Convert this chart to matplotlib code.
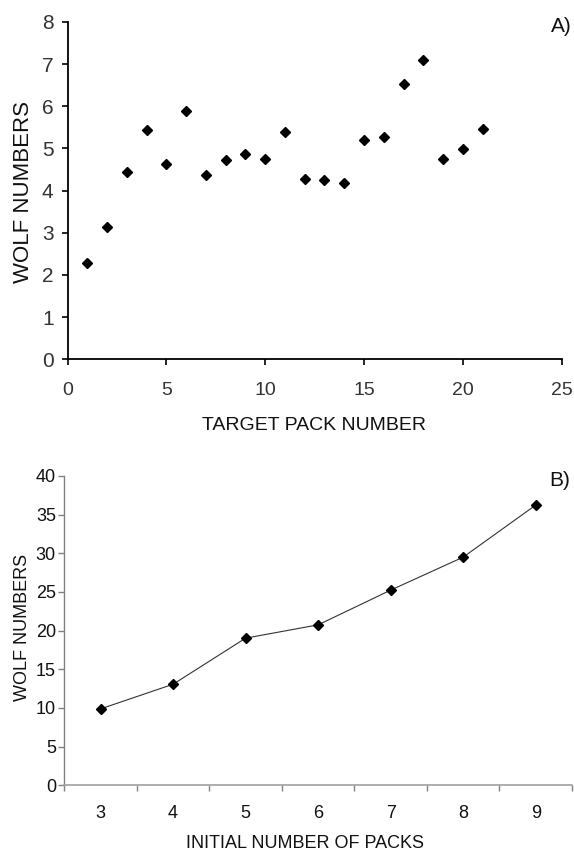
import numpy as np
import matplotlib
matplotlib.use("Agg")
import matplotlib.pyplot as plt

plt.rcParams['font.family'] = ['Liberation Sans', 'DejaVu Sans']

# panel A: wolf numbers per target pack
pack_no = list(range(1, 22))
wolves_a = [2.29, 3.13, 4.45, 5.43, 4.64, 5.88, 4.38, 4.73, 4.88, 4.76, 5.40,
            4.28, 4.26, 4.18, 5.20, 5.28, 6.53, 7.09, 4.75, 4.98, 5.46]

# panel B: wolf numbers vs initial number of packs
init_packs = [3, 4, 5, 6, 7, 8, 9]
wolves_b = [9.88, 13.07, 19.03, 20.75, 25.24, 29.51, 36.24]

W, H = 574, 851
fig = plt.figure(figsize=(W / 100, H / 100), dpi=100)

# ---- top panel
ax1 = fig.add_axes([67.5 / W, 1 - 359.3 / H, 494.2 / W, 337.3 / H])
ax1.plot(pack_no, wolves_a, linestyle='none', marker='D', markersize=5,
         color='black')
ax1.set_xlim(0, 25)
ax1.set_ylim(0, 8)
ax1.set_xticks(np.arange(0, 26, 5))
ax1.set_yticks(np.arange(0, 9, 1))
for s in ['top', 'right']:
    ax1.spines[s].set_visible(False)
for s in ['left', 'bottom']:
    ax1.spines[s].set_linewidth(1.3)
ax1.tick_params(axis='y', direction='out', length=4, width=1.2, pad=6,
                labelsize=15, labelcolor='#333333')
ax1.tick_params(axis='x', direction='out', length=4, width=1.2, pad=12,
                labelsize=14, labelcolor='#333333')
ax1.set_xlabel('TARGET PACK NUMBER', fontsize=14, color='#111111')
ax1.set_ylabel('WOLF NUMBERS', fontsize=16, color='#111111')
ax1.xaxis.set_label_coords(0.499, -0.195)
ax1.xaxis.label.set_va('center')
ax1.yaxis.set_label_coords(-0.090, 0.496)
ax1.yaxis.label.set_va('center')
ax1.text(561.7 / W, 1 - 27 / H, 'A)', transform=fig.transFigure,
         fontsize=15, ha='center', va='center', color='#111111')

# ---- bottom panel
ax2 = fig.add_axes([64.3 / W, 1 - 785.3 / H, 507.7 / W, 309.3 / H])
ax2.plot(init_packs, wolves_b, color='#333333', linewidth=0.8, marker='D',
         markersize=5, markerfacecolor='black', markeredgecolor='black')
ax2.set_xlim(2.5, 9.5)
ax2.set_ylim(0, 40)
ax2.set_yticks(np.arange(0, 41, 5))
ax2.set_xticks(np.arange(2.5, 9.6, 1))
ax2.set_xticklabels([])
ax2.set_xticks(init_packs, minor=True)
ax2.set_xticklabels([str(v) for v in init_packs], minor=True)
for s in ['top', 'right']:
    ax2.spines[s].set_visible(False)
ax2.spines['left'].set_color('#808080')
ax2.spines['bottom'].set_color('#a0a0a0')
ax2.spines['left'].set_linewidth(1.0)
ax2.spines['bottom'].set_linewidth(1.2)
ax2.tick_params(axis='y', direction='out', length=4, width=1.0, pad=2,
                color='#808080', labelsize=13, labelcolor='#111111')
ax2.tick_params(axis='x', which='major', direction='out', length=4, width=1.0,
                color='#808080')
ax2.tick_params(axis='x', which='minor', length=0, pad=14, labelsize=13,
                labelcolor='#111111')
ax2.set_xlabel('INITIAL NUMBER OF PACKS', fontsize=13, color='#111111')
ax2.set_ylabel('WOLF NUMBERS', fontsize=13, color='#111111')
ax2.xaxis.set_label_coords(0.474, -0.1866)
ax2.xaxis.label.set_va('center')
ax2.yaxis.set_label_coords(-0.0833, 0.512)
ax2.yaxis.label.set_va('center')
ax2.text(560 / W, 1 - 480 / H, 'B)', transform=fig.transFigure,
         fontsize=15, ha='center', va='center', color='#111111')

fig.savefig('out.png', dpi=100)
